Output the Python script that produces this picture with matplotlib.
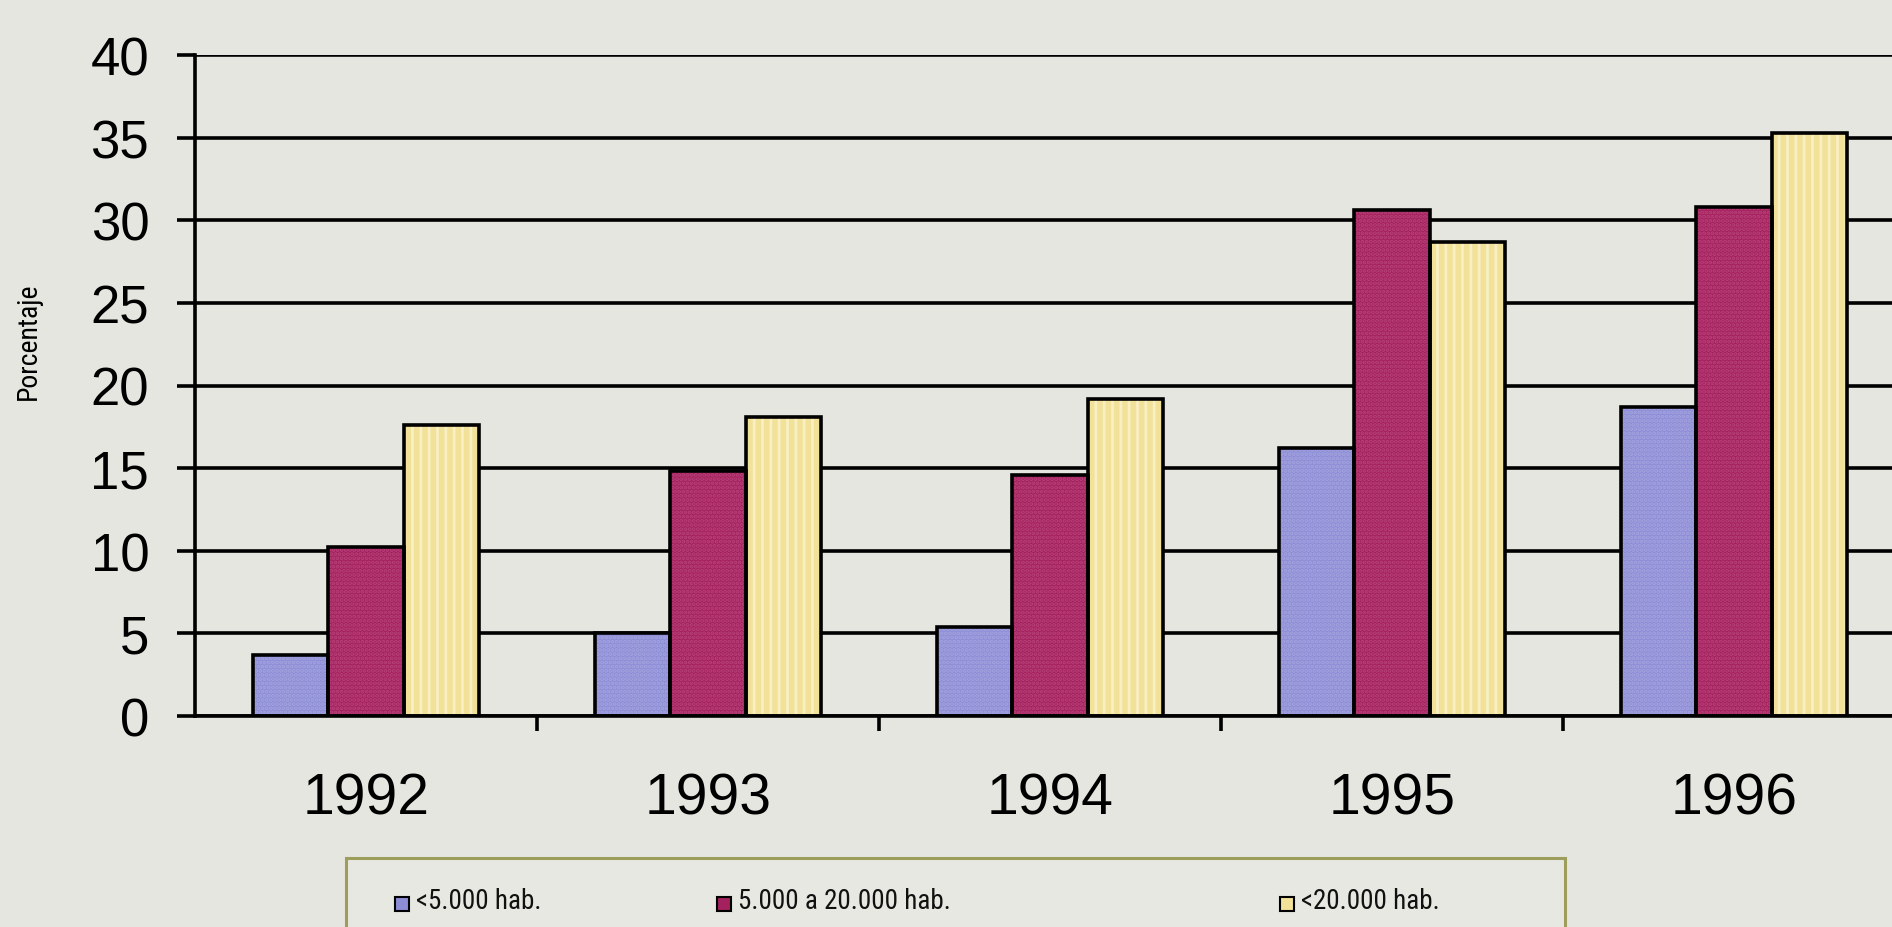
import matplotlib
matplotlib.use("Agg")
import matplotlib.pyplot as plt
from matplotlib.patches import Rectangle
from matplotlib import font_manager
from matplotlib.font_manager import FontProperties
import numpy as np

# ---- data ----
years = ["1992", "1993", "1994", "1995", "1996"]
series_labels = ["<5.000 hab.", "5.000 a 20.000 hab.", "<20.000 hab."]
small = [3.7, 5.0, 5.4, 16.2, 18.7]
medium = [10.2, 14.8, 14.6, 30.6, 30.8]
large = [17.6, 18.1, 19.2, 28.7, 35.3]
yticks = [0, 5, 10, 15, 20, 25, 30, 35, 40]

# ---- style ----
BG = "#e6e6e0"
face_colors = ["#8d8dd6", "#a3215c", "#f1e199"]
hatch_colors = ["#a3a3e0", "#b8417a", "#f8efc2"]
hatches = ["....", "....", "||"]

plt.rcParams["font.family"] = ["Liberation Sans", "DejaVu Sans"]
plt.rcParams["hatch.linewidth"] = 2.0


def find_condensed():
    prefs = ["Liberation Sans Narrow", "Noto Sans", "Roboto", "Open Sans",
             "Lato", "Inter", "DejaVu Sans"]
    cands = []
    for f in font_manager.fontManager.ttflist:
        name = f.name
        fname = f.fname.lower()
        is_cond = (str(f.stretch) in ("condensed", "semi-condensed", "extra-condensed")
                   or "condensed" in fname or "narrow" in fname)
        if not is_cond:
            continue
        if f.style != "normal":
            continue
        w = f.weight if isinstance(f.weight, int) else 400
        if w != 400:
            continue
        if "semicondensed" in fname or "extracondensed" in fname:
            continue
        rank = len(prefs)
        for i, p in enumerate(prefs):
            if name.startswith(p.split()[0]):
                rank = i
                break
        cands.append((rank, f.fname))
    if cands:
        cands.sort()
        return FontProperties(fname=cands[0][1])
    return FontProperties(family="Liberation Sans")


cond_fp = find_condensed()

W, H = 1892, 928
fig = plt.figure(figsize=(W / 100, H / 100), dpi=100, facecolor=BG)
ax = fig.add_axes([195 / W, (H - 717) / H, (W - 195) / W, (717 - 56) / H])
ax.set_facecolor(BG)

x = np.arange(len(years))
bw = 0.22
data = [small, medium, large]
for i, vals in enumerate(data):
    pos = x + (i - 1) * bw
    ax.bar(pos, vals, bw, color=face_colors[i], edgecolor=hatch_colors[i],
           hatch=hatches[i], linewidth=0, zorder=3)
    ax.bar(pos, vals, bw, facecolor="none", edgecolor="black",
           linewidth=2.6, zorder=4)

ax.set_ylim(0, 40)
ax.set_xlim(-0.5, -0.5 + (W - 195) / 342)
ax.set_yticks(yticks)
ax.set_yticklabels([str(t) for t in yticks], fontsize=38)
ax.yaxis.grid(True, color="black", linewidth=2.6, zorder=1)
ax.set_axisbelow(True)

ax.set_xticks(x)
ax.set_xticklabels(years, fontsize=41)
ax.set_xticks(x[:-1] + 0.5, minor=True)
ax.tick_params(axis="x", which="major", length=0, pad=40)
ax.tick_params(axis="x", which="minor", length=11, width=2.6, direction="out")
ax.tick_params(axis="y", length=13, width=2.6, direction="out", pad=20)

for s in ["top", "right"]:
    ax.spines[s].set_visible(False)
for s in ["left", "bottom"]:
    ax.spines[s].set_linewidth(2.6)
    ax.spines[s].set_zorder(5)

ylab_fp = cond_fp.copy()
ylab_fp.set_size(20)
ax.set_ylabel("Porcentaje", fontproperties=ylab_fp)
ax.yaxis.set_label_coords((42 - 195) / (W - 195), (717 - 341) / (717 - 56))

# ---- legend box (partly cut off at the bottom, as in the scan) ----
fig.patches.append(Rectangle((346 / W, 0 - 0.02), (1565 - 346) / W, (H - 859) / H + 0.02,
                             transform=fig.transFigure, facecolor="#e8e8e2",
                             edgecolor="#9d9d5c", linewidth=2.2, zorder=1))
leg_fp = cond_fp.copy()
leg_fp.set_size(19.5)
marker_x = [402, 724, 1287]
for lab, fc, mx in zip(series_labels, face_colors, marker_x):
    fig.patches.append(Rectangle(((mx - 7) / W, (H - 912) / H), 14 / W, 14 / H,
                                 transform=fig.transFigure, facecolor=fc,
                                 edgecolor="black", linewidth=1.5, zorder=2))
    fig.text((mx + 14) / W, (H - 902) / H, lab, fontproperties=leg_fp, ha="left",
             va="center", color="#111111")

fig.savefig("out.png", dpi=100, facecolor=BG)
